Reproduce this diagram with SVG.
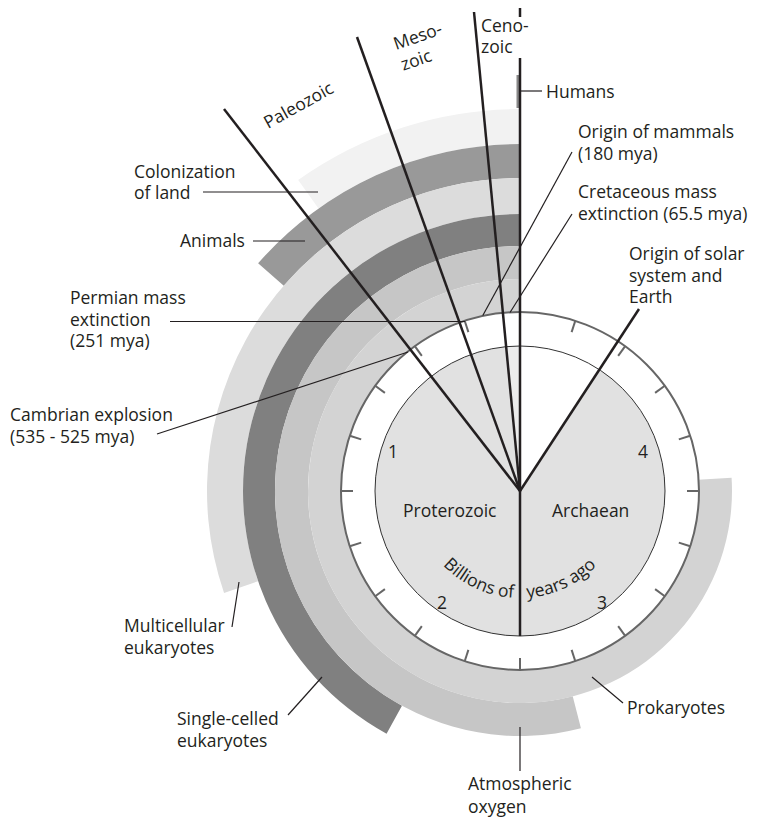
<svg xmlns="http://www.w3.org/2000/svg" width="757" height="822" viewBox="0 0 757 822">
<style>
text{font-family:"Open Sans","Liberation Sans",sans-serif;font-size:17.5px;fill:#231f20}
.era{stroke:#231f20;stroke-width:2.5;fill:none;stroke-linecap:butt}
.lead{stroke:#231f20;stroke-width:1.2;fill:none}
.tick{stroke:#666;stroke-width:2}
</style>
<rect width="757" height="822" fill="#fff"/>
<g id="bands">
<path id="colonization" d="M298.17,180 A382,382 0 0 1 520,109 L520,144 A347,347 0 0 0 318.5,208.5 Z" fill="#f2f2f2"/>
<path id="animals" d="M258.12,263.35 A347,347 0 0 1 520,144 L520,178 A313,313 0 0 0 283.78,285.65 Z" fill="#999"/>
<path id="multicellular" d="M224.05,592.9 A313,313 0 0 1 520,178 L520,214 A277,277 0 0 0 258.09,581.18 Z" fill="#dcdcdc"/>
<path id="singlecelled" d="M386.56,733.74 A277,277 0 0 1 520,214 L520,246 A245,245 0 0 0 401.97,705.7 Z" fill="#808080"/>
<path id="oxygen" d="M580.93,728.3 A245,245 0 1 1 520,246 L520,279 A212,212 0 1 0 572.72,696.34 Z" fill="#c6c6c6"/>
<path id="prokaryotes" d="M731.58,477.69 A212,212 0 1 1 520,279 L520,312.5 A178.5,178.5 0 1 0 698.15,479.79 Z" fill="#d3d3d3"/>
<rect id="humans" x="516.5" y="75" width="3" height="33" fill="#888"/>
</g>
<g id="dial">
<circle cx="520" cy="491" r="179" fill="#fff" stroke="#666" stroke-width="2"/>
<path d="M520,491 L599.4,369.7 A145,145 0 1 1 520,346 Z" fill="#e1e1e1"/>
<path d="M520,491 L506.1,346.7 A145,145 0 0 1 520,346 Z" fill="#ececec"/>
<circle cx="520" cy="491" r="145" fill="none" stroke="#333" stroke-width="1"/>
<g class="tick">
<line x1="520" y1="324" x2="520" y2="312"/>
<line x1="571.61" y1="332.17" x2="575.3" y2="320.8"/>
<line x1="618.16" y1="355.89" x2="625.2" y2="346.2"/>
<line x1="655.11" y1="392.84" x2="664.8" y2="385.8"/>
<line x1="678.83" y1="439.39" x2="690.2" y2="435.7"/>
<line x1="687" y1="491" x2="699" y2="491"/>
<line x1="678.83" y1="542.61" x2="690.2" y2="546.3"/>
<line x1="655.11" y1="589.16" x2="664.8" y2="596.2"/>
<line x1="618.16" y1="626.11" x2="625.2" y2="635.8"/>
<line x1="571.61" y1="649.83" x2="575.3" y2="661.2"/>
<line x1="520" y1="658" x2="520" y2="670"/>
<line x1="468.39" y1="649.83" x2="464.7" y2="661.2"/>
<line x1="421.84" y1="626.11" x2="414.8" y2="635.8"/>
<line x1="384.89" y1="589.16" x2="375.2" y2="596.2"/>
<line x1="361.17" y1="542.61" x2="349.8" y2="546.3"/>
<line x1="353" y1="491" x2="341" y2="491"/>
<line x1="361.17" y1="439.39" x2="349.8" y2="435.7"/>
<line x1="384.89" y1="392.84" x2="375.2" y2="385.8"/>
<line x1="421.84" y1="355.89" x2="414.8" y2="346.2"/>
<line x1="468.39" y1="332.17" x2="464.7" y2="320.8"/>
</g>
<text x="388" y="458">1</text>
<text x="437" y="609">2</text>
<text x="597" y="609">3</text>
<text x="638" y="458">4</text>
<text x="403" y="517">Proterozoic</text>
<text x="552" y="517">Archaean</text>
<path id="arc" d="M427.34,544.5 A107,107 0 0 0 612.66,544.5" fill="none"/>
<text><textPath href="#arc" startOffset="26">Billions of</textPath></text>
<text><textPath href="#arc" startOffset="119">years ago</textPath></text>
</g>
<g id="connectors">
<line class="era" x1="520" y1="491" x2="224" y2="109"/>
<line class="era" x1="520" y1="491" x2="357" y2="37"/>
<line class="era" x1="520" y1="491" x2="474" y2="12"/>
<line class="era" x1="520" y1="636" x2="520" y2="58"/>
<line class="era" x1="520" y1="8" x2="520" y2="17"/>
<line class="era" x1="520" y1="491" x2="639" y2="309"/>
<line class="lead" x1="520" y1="91" x2="542" y2="91"/>
<line class="lead" x1="572" y1="152" x2="482.8" y2="315.5"/>
<line class="lead" x1="572" y1="214" x2="510" y2="312.5"/>
<line class="lead" x1="203" y1="192" x2="318" y2="192"/>
<line class="lead" x1="253" y1="241" x2="305" y2="241"/>
<line class="lead" x1="170" y1="321.5" x2="465" y2="321.5"/>
<line class="lead" x1="157" y1="434" x2="408" y2="352"/>
<line class="lead" x1="239" y1="582" x2="232" y2="627"/>
<line class="lead" x1="322" y1="677" x2="288" y2="715"/>
<line class="lead" x1="520" y1="727" x2="520" y2="771"/>
<line class="lead" x1="592" y1="677" x2="623" y2="703"/>
</g>
<g id="labels">
<text transform="translate(268,129) rotate(-29)">Paleozoic</text>
<g transform="translate(396,50) rotate(-19)"><text x="0" y="0">Meso-</text><text x="0" y="22">zoic</text></g>
<text x="481" y="32">Ceno-</text>
<text x="481" y="53">zoic</text>
<text x="546" y="98">Humans</text>
<text x="578" y="138">Origin of mammals</text>
<text x="578" y="160">(180 mya)</text>
<text x="578" y="198">Cretaceous mass</text>
<text x="578" y="220">extinction (65.5 mya)</text>
<text x="629" y="260">Origin of solar</text>
<text x="629" y="282">system and</text>
<text x="629" y="303">Earth</text>
<text x="134" y="178">Colonization</text>
<text x="134" y="199">of land</text>
<text x="180" y="247">Animals</text>
<text x="70" y="304">Permian mass</text>
<text x="70" y="326">extinction</text>
<text x="70" y="347">(251 mya)</text>
<text x="10" y="421">Cambrian explosion</text>
<text x="10" y="443">(535 - 525 mya)</text>
<text x="124" y="632">Multicellular</text>
<text x="124" y="654">eukaryotes</text>
<text x="177" y="725">Single-celled</text>
<text x="177" y="747">eukaryotes</text>
<text x="468" y="790">Atmospheric</text>
<text x="468" y="813">oxygen</text>
<text x="627" y="714">Prokaryotes</text>
</g>
</svg>
